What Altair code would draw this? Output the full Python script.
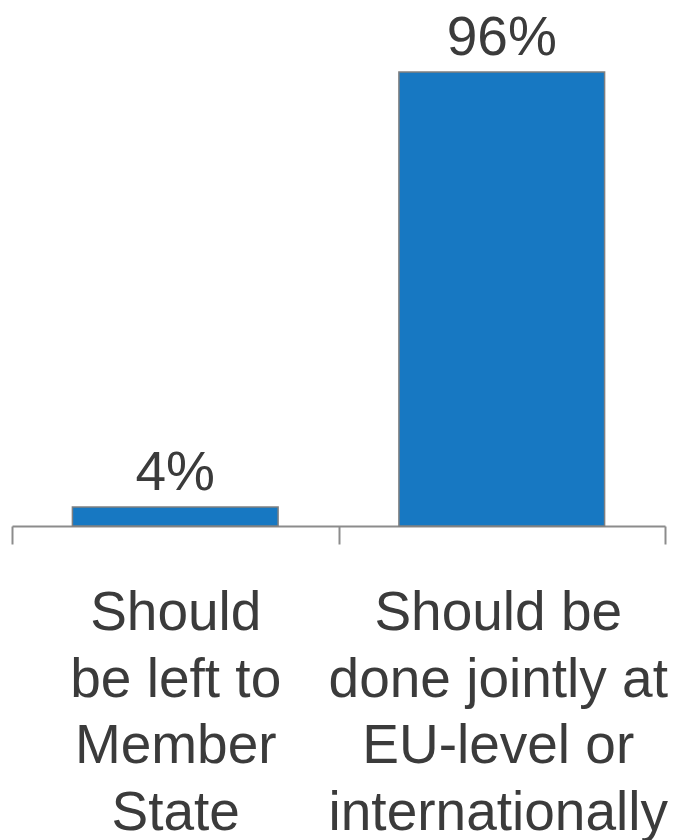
import altair as alt
import pandas as pd

categories = ["Should|be left to|Member|State", "Should be|done jointly at|EU-level or|internationally"]
values = [4, 96]
value_labels = ["4%", "96%"]

df = pd.DataFrame({"cat": categories, "val": values, "lbl": value_labels})

x = alt.X("cat:N", sort=categories, title=None,
          scale=alt.Scale(paddingInner=0, paddingOuter=0),
          axis=alt.Axis(labelExpr="split(datum.label, '|')", labelAngle=0, labelLimit=0,
                        labelFont="Liberation Sans", labelFontSize=55, labelColor="#3b3b3b",
                        labelLineHeight=66.5, labelPadding=42.5, labelBaseline="top",
                        labelOffset={"condition": {"test": "datum.index > 0.5", "value": -4}, "value": 0},
                        domainColor="#8c8c8c", domainWidth=2, tickColor="#8c8c8c", tickWidth=2,
                        tickSize=18, tickBand="extent", grid=False))
y = alt.Y("val:Q", scale=alt.Scale(domain=[0, 100]), axis=None)

bars = alt.Chart(df).mark_bar(color="#1778c2", stroke="#808080", strokeWidth=1.5,
                              width=alt.RelativeBandSize(0.63)).encode(x=x, y=y)
text = alt.Chart(df).mark_text(font="Liberation Sans", fontSize=55, color="#3b3b3b",
                               baseline="alphabetic", dy=-17).encode(x=x, y=y, text="lbl:N")

chart = (bars + text).properties(
    width=653, height=473,
    autosize=alt.AutoSizeParams(type="none"),
    padding={"left": 4, "top": 45, "right": 4, "bottom": 314},
).configure_view(stroke=None)

chart.save("out.html", embed_options={"renderer": "svg", "actions": False})
